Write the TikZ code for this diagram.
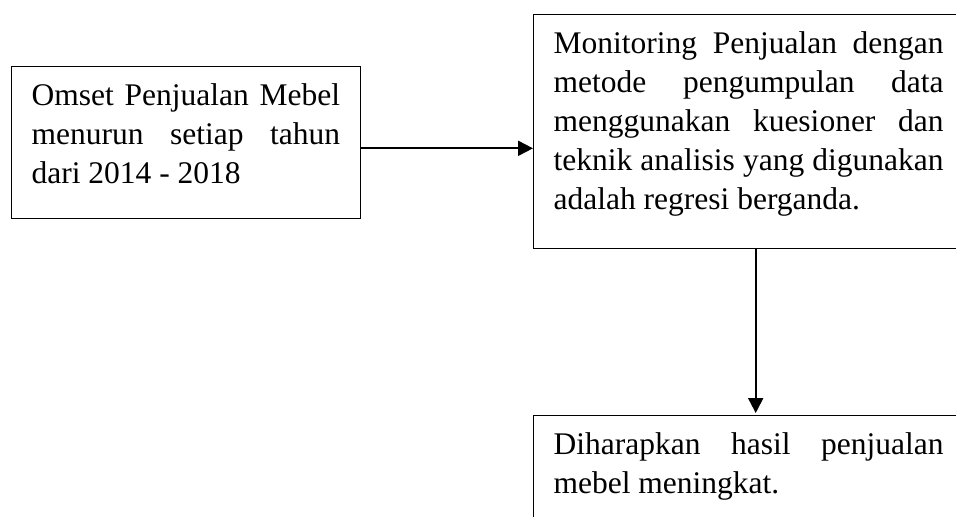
\documentclass[tikz,border=0pt]{standalone}
\usepackage{fontspec}
\setmainfont{Liberation Serif}
\usepackage{tikz}
\usetikzlibrary{arrows.meta}
\newcommand{\jline}[1]{\makebox[\linewidth][s]{#1}\\}

\begin{document}
\begin{tikzpicture}
        \tikzstyle{b} = [rectangle, draw=black, line width=0.6pt, anchor=north west,
                         inner xsep=10pt, inner ysep=0pt, text height=19.5pt, align=justify,
                         font=\fontsize{15.75pt}{19.5pt}\selectfont]
        \tikzstyle{a} = [-{Triangle[length=7.5pt,width=7.5pt]}, line width=1pt]

        \useasboundingbox (0,0) rectangle (478pt,-258pt);
        \clip (0,0) rectangle (478pt,-258pt);

        \node(omset)   [b, text width=154.3pt, text depth=56.35pt] at (5.5pt,-33pt)
                {\jline{Omset Penjualan Mebel}\jline{menurun setiap tahun}dari 2014 - 2018};
        \node(monitor) [b, text width=195pt, text depth=97.5pt] at (266.5pt,-7pt)
                {\jline{Monitoring Penjualan dengan}\jline{metode pengumpulan data}%
                 \jline{menggunakan kuesioner dan}\jline{teknik analisis yang digunakan}%
                 adalah regresi berganda.};
        \node(hasil)   [b, text width=195pt, text depth=40pt] at (266.5pt,-207.5pt)
                {\jline{Diharapkan hasil penjualan}mebel meningkat.};

        \coordinate (p1) at ([yshift=-2.93pt]omset.east);
        \coordinate (p2) at ([xshift=111.35pt]monitor.south west);

        \draw[a] (p1) -- (p1 -| monitor.west);
        \draw[a, shorten >=1pt] (p2) -- (p2 |- hasil.north);
      \end{tikzpicture}
\end{document}
